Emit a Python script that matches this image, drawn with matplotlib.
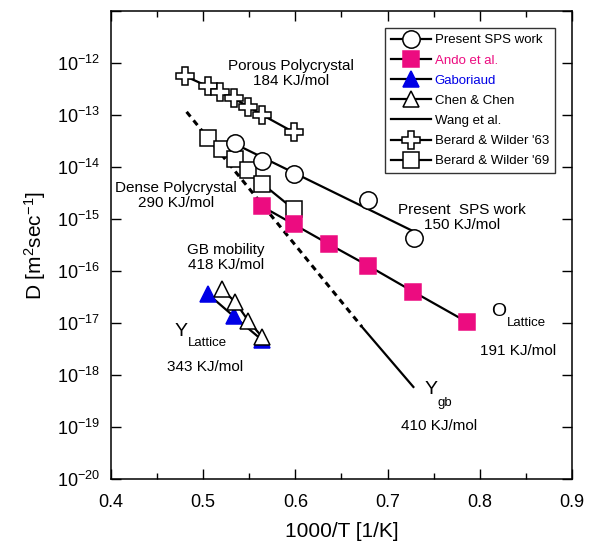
import numpy as np
import matplotlib
matplotlib.use("Agg")
import matplotlib.pyplot as plt
from matplotlib.lines import Line2D
from matplotlib.ticker import FixedLocator, MultipleLocator, FuncFormatter

plt.rcParams['font.family'] = ['Liberation Sans', 'DejaVu Sans']
plt.rcParams['mathtext.default'] = 'regular'

# data: x = 1000/T, values are log10(D)
sps_x = [0.535, 0.564, 0.598, 0.679, 0.729]
sps_logd = [-13.53, -13.88, -14.14, -14.63, -15.36]

ando_x = [0.564, 0.598, 0.636, 0.679, 0.728, 0.786]
ando_logd = [-14.76, -15.10, -15.48, -15.90, -16.40, -16.98]

gab_x = [0.505, 0.533, 0.564]
gab_logd = [-16.44, -16.87, -17.33]

chen_x = [0.520, 0.5345, 0.549, 0.564]
chen_logd = [-16.35, -16.59, -16.96, -17.27]

wang_x = [0.482, 0.672, 0.728]
wang_logd = [-12.94, -17.07, -18.23]

bw63_x = [0.480, 0.505, 0.518, 0.533, 0.549, 0.564, 0.598]
bw63_logd = [-12.25, -12.45, -12.56, -12.68, -12.84, -13.00, -13.33]

bw69_x = [0.5055, 0.520, 0.5345, 0.549, 0.564, 0.598]
bw69_logd = [-13.45, -13.65, -13.84, -14.06, -14.32, -14.81]

pink = '#ec0c80'
blue = '#0000e6'

fig = plt.figure(figsize=(5.91, 5.5), dpi=100)
ax = fig.add_axes([0.1878, 0.1291, 0.78, 0.851])
ax.set_yscale('log')

def D(v):
    return 10.0 ** np.asarray(v)

lw = 1.6
mew = 1.1
ms_o, ms_s, ms_p, ms_t = 12.5, 11, 12.5, 11

# Wang et al: dashed extrapolation + solid part
ax.plot(wang_x[:2], D(wang_logd[:2]), color='k', lw=2.2, ls=(0, (2.0, 1.6)), zorder=2)
ax.plot(wang_x[1:], D(wang_logd[1:]), color='k', lw=lw, zorder=2)

# Berard & Wilder '63
ax.plot(bw63_x, D(bw63_logd), color='k', lw=lw, marker='P', ms=ms_p,
        mfc='white', mec='k', mew=mew, zorder=3)
# Berard & Wilder '69
ax.plot(bw69_x, D(bw69_logd), color='k', lw=lw, marker='s', ms=ms_s,
        mfc='white', mec='k', mew=mew, zorder=3)

# Present SPS work: fitted line + points
fit = np.polyfit(sps_x, sps_logd, 1)
xs = np.array([sps_x[0], sps_x[-1]])
ax.plot(xs, D(np.polyval(fit, xs)), color='k', lw=lw, zorder=4)
ax.plot(sps_x, D(sps_logd), ls='none', marker='o', ms=ms_o,
        mfc='white', mec='k', mew=mew, zorder=4)

# Ando et al.
ax.plot(ando_x, D(ando_logd), color='k', lw=lw, marker='s', ms=ms_s,
        mfc=pink, mec=pink, mew=mew, zorder=5)

# Gaboriaud and Chen & Chen
ax.plot(gab_x, D(gab_logd), color='k', lw=lw, marker='^', ms=ms_t,
        mfc=blue, mec=blue, mew=mew, zorder=5)
ax.plot(chen_x, D(chen_logd), color='k', lw=lw, marker='^', ms=ms_t,
        mfc='white', mec='k', mew=mew, zorder=6)

ax.set_xlim(0.4, 0.9)
ax.set_ylim(1e-20, 1e-11)

ax.xaxis.set_major_locator(MultipleLocator(0.1))
ax.xaxis.set_minor_locator(MultipleLocator(0.05))
ax.xaxis.set_major_formatter(FuncFormatter(lambda v, p: '%.1f' % v))
ax.yaxis.set_major_locator(FixedLocator(D(np.arange(-20, -10))))
ax.yaxis.set_minor_locator(FixedLocator([]))
ax.yaxis.set_major_formatter(FuncFormatter(
    lambda v, p: r'$10^{%d}$' % int(round(np.log10(v))) if v < 5e-12 else ''))

ax.tick_params(which='both', direction='in', top=True, right=True, width=1.0)
ax.tick_params(which='major', length=7)
ax.tick_params(which='minor', length=4.5)
ax.tick_params(axis='x', which='major', labelsize=13, pad=11)
ax.tick_params(axis='y', which='major', labelsize=13, pad=8)
for s in ax.spines.values():
    s.set_linewidth(1.1)

ax.set_xlabel('1000/T [1/K]', fontsize=15, labelpad=8)
ax.set_ylabel(r'D [m$^{2}$sec$^{-1}$]', fontsize=15, labelpad=6)

# annotations
tk = dict(transform=ax.transAxes, fontsize=11, ha='center', va='center', linespacing=1.1)
ax.text(0.390, 0.866, 'Porous Polycrystal\n184 KJ/mol', **tk)
ax.text(0.141, 0.605, 'Dense Polycrystal\n290 KJ/mol', **tk)
ax.text(0.2495, 0.474, 'GB mobility\n418 KJ/mol', **tk)
ax.text(0.761, 0.558, 'Present  SPS work\n150 KJ/mol', **tk)
ax.text(0.204, 0.239, '343 KJ/mol', **tk)
ax.text(0.884, 0.2735, '191 KJ/mol', **tk)
ax.text(0.711, 0.113, '410 KJ/mol', **tk)

big = dict(transform=ax.transAxes, fontsize=14, ha='center', va='center')
sub = dict(transform=ax.transAxes, fontsize=9.5, ha='left', va='center')
ax.text(0.152, 0.315, 'Y', **big)
ax.text(0.167, 0.291, 'Lattice', **sub)
ax.text(0.842, 0.357, 'O', **big)
ax.text(0.859, 0.333, 'Lattice', **sub)
ax.text(0.694, 0.192, 'Y', **big)
ax.text(0.709, 0.162, 'gb', **sub)

# legend
handles = [
    Line2D([], [], color='k', lw=lw, marker='o', ms=ms_o, mfc='white', mec='k', mew=mew),
    Line2D([], [], color='k', lw=lw, marker='s', ms=ms_s, mfc=pink, mec=pink, mew=mew),
    Line2D([], [], color='k', lw=lw, marker='^', ms=ms_t, mfc=blue, mec=blue, mew=mew),
    Line2D([], [], color='k', lw=lw, marker='^', ms=ms_t, mfc='white', mec='k', mew=mew),
    Line2D([], [], color='k', lw=lw),
    Line2D([], [], color='k', lw=lw, marker='P', ms=ms_p, mfc='white', mec='k', mew=mew),
    Line2D([], [], color='k', lw=lw, marker='s', ms=ms_s, mfc='white', mec='k', mew=mew),
]
labels = ['Present SPS work', 'Ando et al.', 'Gaboriaud', 'Chen & Chen',
          'Wang et al.', "Berard & Wilder '63", "Berard & Wilder '69"]
leg = ax.legend(handles, labels, loc='upper right', bbox_to_anchor=(0.963, 0.963),
                borderaxespad=0, fontsize=9.5, fancybox=False, framealpha=1,
                edgecolor='#333333', handlelength=3.0, handletextpad=0.3,
                labelspacing=0.6, borderpad=0.45)
leg.get_frame().set_linewidth(1.0)
leg.get_texts()[1].set_color(pink)
leg.get_texts()[2].set_color(blue)

fig.savefig('out.png', dpi=100)
